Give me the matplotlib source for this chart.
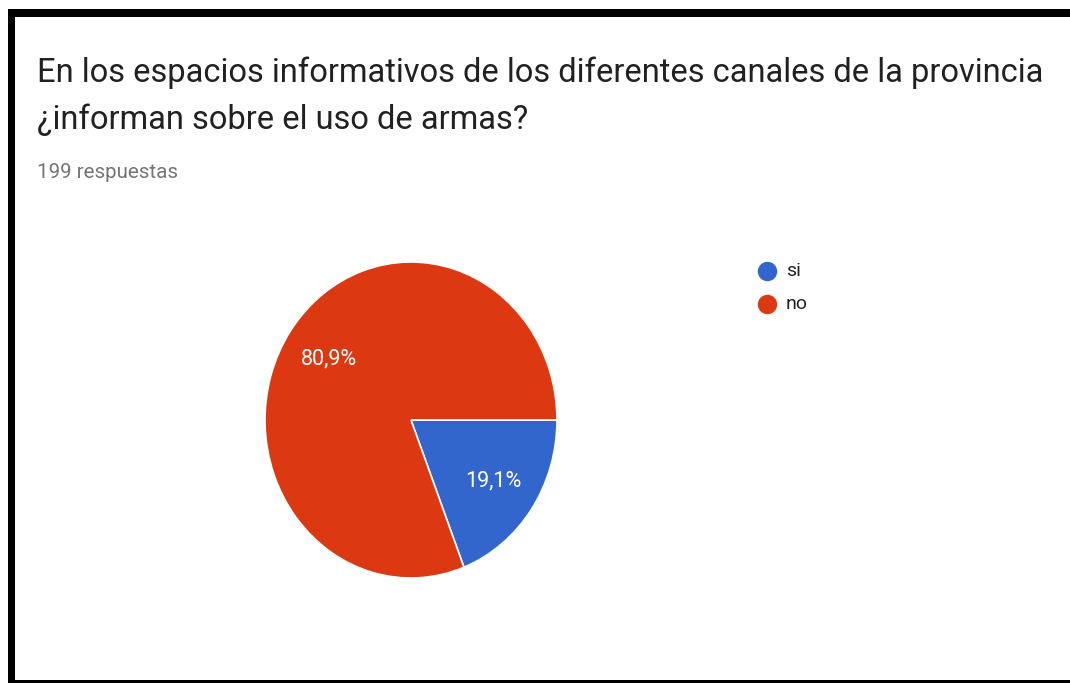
import matplotlib
matplotlib.use("Agg")
import matplotlib.pyplot as plt
from matplotlib.patches import Rectangle
from matplotlib.lines import Line2D

plt.rcParams['font.family'] = ['Roboto', 'DejaVu Sans']

title_lines = ["En los espacios informativos de los diferentes canales de la provincia",
               "¿informan sobre el uso de armas?"]
subtitle = "199 respuestas"
categories = ["si", "no"]
counts = [38, 161]
colors = ["#3366CC", "#DC3912"]

W, H = 1070, 683
fig = plt.figure(figsize=(W / 100, H / 100), dpi=100)
fig.patch.set_facecolor("white")

def fx(px):
    return px / W

def fy(py):
    return 1 - py / H

# border
fig.add_artist(Rectangle((fx(8), fy(17)), fx(1070) - fx(8), 8 / H, transform=fig.transFigure,
                         color="black", lw=0))
fig.add_artist(Rectangle((fx(8), fy(683)), 7 / W, (683 - 9) / H, transform=fig.transFigure,
                         color="black", lw=0))
fig.add_artist(Rectangle((fx(8), 0), 1 - fx(8), 3 / H, transform=fig.transFigure,
                         color="black", lw=0))

# titles
fig.text(fx(37), fy(73), title_lines[0], fontsize=23.5, color="#212121", va="center", ha="left")
fig.text(fx(37), fy(120), title_lines[1], fontsize=23.5, color="#212121", va="center", ha="left")
fig.text(fx(37), fy(172), subtitle, fontsize=14.8, color="#757575", va="center", ha="left")

# pie
cx, cy, rx, ry = 411, 420, 146, 158
ax = fig.add_axes([fx(cx - rx), fy(cy + ry), 2 * rx / W, 2 * ry / H])
wedges, texts, autotexts = ax.pie(
    counts, colors=colors, startangle=0, counterclock=False, radius=1,
    autopct=lambda p: f"{p:.1f}%".replace(".", ","), pctdistance=0.68,
    wedgeprops=dict(edgecolor="white", linewidth=1.2),
    textprops=dict(color="white", fontsize=15.5))
ax.set_aspect("auto")
ax.set_xlim(-1, 1)
ax.set_ylim(-1, 1)
ax.axis("off")

# legend
for i, (lab, col) in enumerate(zip(categories, colors)):
    y = 271 + i * 33
    fig.add_artist(Line2D([fx(767)], [fy(y)], marker="o", markersize=14, color=col,
                          markeredgewidth=0, transform=fig.transFigure))
    fig.text(fx(786), fy(y), lab, fontsize=14, color="#222222", va="center", ha="left")

fig.savefig("out.png", dpi=100)
